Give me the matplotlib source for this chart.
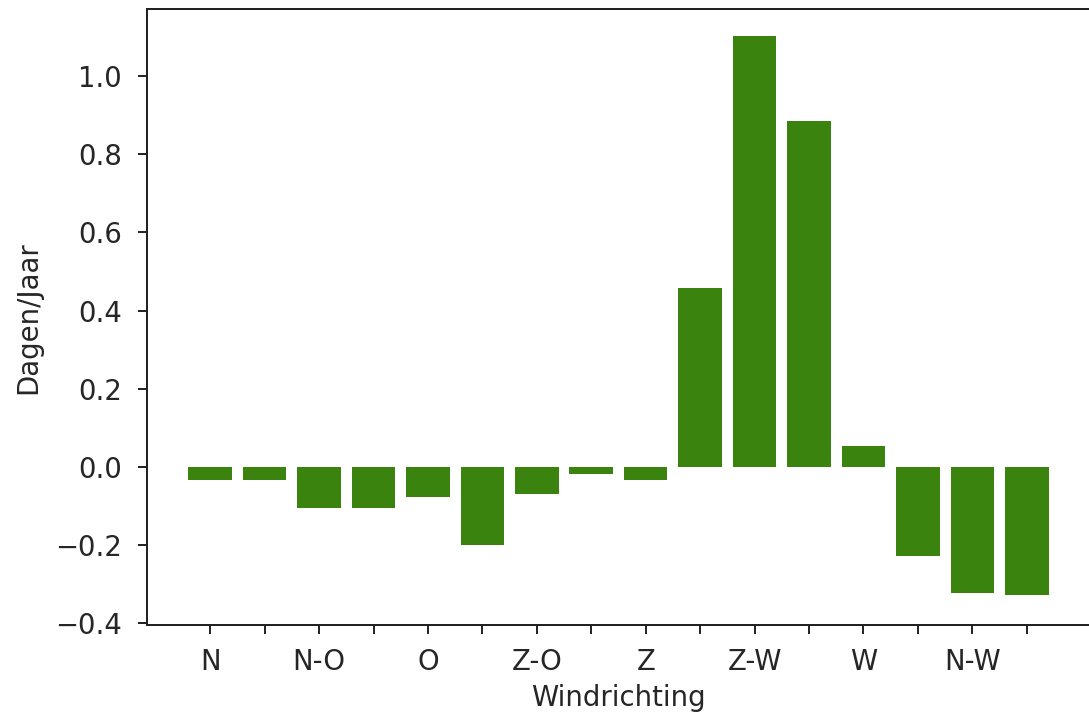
import matplotlib
matplotlib.use("Agg")
import matplotlib.pyplot as plt

# Windrichtingen (16 sectoren) en verschil in dagen per jaar
richtingen = ["N", "", "N-O", "", "O", "", "Z-O", "", "Z", "", "Z-W", "", "W", "", "N-W", ""]
waarden = [-0.034, -0.034, -0.106, -0.106, -0.077, -0.200, -0.070, -0.019,
           -0.034, 0.457, 1.103, 0.885, 0.053, -0.229, -0.324, -0.329]
kleur = "#3a830e"
tekstkleur = "#262626"

plt.rcParams.update({
    "font.size": 11.0,
    "text.color": tekstkleur,
    "axes.labelcolor": tekstkleur,
    "xtick.color": tekstkleur,
    "ytick.color": tekstkleur,
    "axes.edgecolor": "#222222",
})

fig = plt.figure(figsize=(1089 / 180, 714 / 180), dpi=180)
ax = fig.add_axes([0.135, 0.1246, 0.8664, 0.8624])

posities = list(range(len(waarden)))
ax.bar(posities, waarden, width=0.8, color=kleur)

ax.set_xticks(posities)
ax.set_xticklabels(richtingen)
ax.set_xlim(-1.16, 16.17)
ax.set_ylim(-0.406, 1.172)
ax.set_yticks([-0.4, -0.2, 0.0, 0.2, 0.4, 0.6, 0.8, 1.0])
ax.tick_params(axis="x", pad=5.5)
ax.tick_params(axis="y", pad=6.5)

ax.set_xlabel("Windrichting", labelpad=3.5)
ax.set_ylabel("Dagen/Jaar", labelpad=5)

fig.savefig("out.png", dpi=180)
